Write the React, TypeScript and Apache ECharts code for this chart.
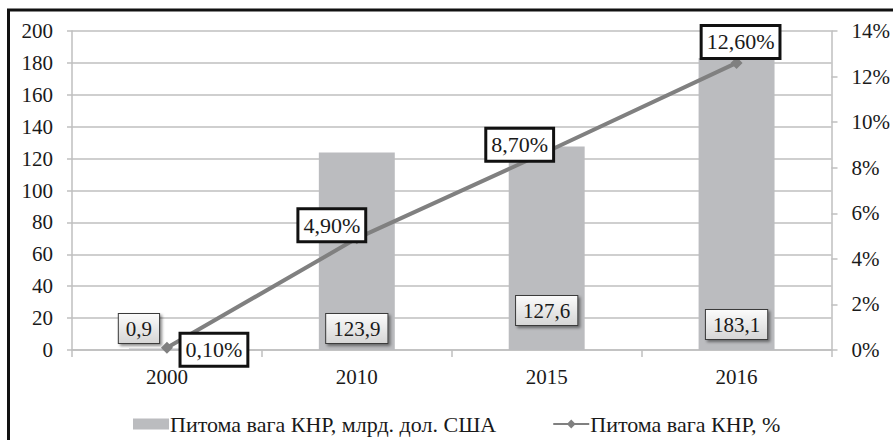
import React, { useEffect, useRef } from "react";
import * as echarts from "echarts";

const categories = ["2000", "2010", "2015", "2016"];
const barValues = [0.9, 123.9, 127.6, 183.1];
const lineValues = [0.1, 4.9, 8.7, 12.6];
const barLabelOffsets = [[-28, 0], [0, 0], [0, -18], [0, -4]];
const lineLabelOffsets = [[47, 2], [-25, -13], [-27, -7], [4, -21]];
const barName = "Питома вага КНР, млрд. дол. США";
const lineName = "Питома вага КНР, %";

const FONT = "Liberation Serif";
const FS = 21;
const TXT = "#1a1a1a";

export default function App() {
  const ref = useRef<HTMLDivElement>(null);
  useEffect(() => {
    if (!ref.current) return;
    const chart = echarts.init(ref.current, undefined, { renderer: "svg" });
    const option: any = {
      animation: false,
      backgroundColor: "#ffffff",
      grid: { left: 72, right: 61, top: 31, bottom: 90, containLabel: false },
      graphic: [
        {
          type: "rect",
          shape: { x: 8.5, y: 10, width: 1000, height: 1000 },
          style: { fill: "none", stroke: "#111", lineWidth: 3 },
          silent: true,
          z: 100,
        },
      ],
      legend: {
        left: 128,
        top: 408,
        itemWidth: 36,
        itemHeight: 11,
        itemGap: 56,
        textStyle: { fontFamily: FONT, fontSize: 22, color: TXT, padding: [0, 0, 0, -4] },
        data: [
          { name: barName, icon: "rect" },
          { name: lineName },
        ],
      },
      xAxis: {
        type: "category",
        data: categories,
        boundaryGap: true,
        axisLine: { lineStyle: { color: "#bfbfbf", width: 1.5 } },
        axisTick: { show: true, length: 7, lineStyle: { color: "#bfbfbf", width: 1.5 } },
        axisLabel: { fontFamily: FONT, fontSize: FS, color: TXT, margin: 16 },
      },
      yAxis: [
        {
          type: "value",
          min: 0,
          max: 200,
          interval: 20,
          axisLine: { show: true, lineStyle: { color: "#bfbfbf", width: 1.5 } },
          axisTick: { show: true, length: 5, lineStyle: { color: "#bfbfbf", width: 1.5 } },
          splitLine: { show: true, lineStyle: { color: "#bfbfbf", width: 1.5 } },
          axisLabel: { fontFamily: FONT, fontSize: FS, color: TXT, margin: 19 },
        },
        {
          type: "value",
          min: 0,
          max: 14,
          interval: 2,
          position: "right",
          axisLine: { show: true, lineStyle: { color: "#bfbfbf", width: 1.5 } },
          axisTick: { show: true, length: 6, lineStyle: { color: "#bfbfbf", width: 1.5 } },
          splitLine: { show: false },
          axisLabel: {
            fontFamily: FONT,
            fontSize: FS,
            color: TXT,
            margin: 20,
            formatter: "{value}%",
          },
        },
      ],
      series: [
        {
          name: barName,
          type: "bar",
          yAxisIndex: 0,
          barWidth: "40%",
          itemStyle: { color: "#bbbcbf" },
          data: barValues.map((v, i) => ({
            value: v,
            label: { offset: barLabelOffsets[i] },
          })),
          label: {
            show: true,
            position: "insideBottom",
            distance: 7,
            fontFamily: FONT,
            fontSize: FS,
            lineHeight: 22,
            color: TXT,
            padding: [4, 7, 3, 7],
            borderColor: "#3a3a3a",
            borderWidth: 1,
            backgroundColor: {
              type: "linear",
              x: 0,
              y: 0,
              x2: 0,
              y2: 1,
              colorStops: [
                { offset: 0, color: "#fbfbfb" },
                { offset: 1, color: "#d6d6d6" },
              ],
            },
            shadowColor: "rgba(0,0,0,0.45)",
            shadowBlur: 3,
            shadowOffsetX: 2,
            shadowOffsetY: 2,
            formatter: (p: any) => String(p.value).replace(".", ","),
          },
          z: 2,
        },
        {
          name: lineName,
          type: "line",
          yAxisIndex: 1,
          symbol: "diamond",
          symbolSize: 12,
          lineStyle: { color: "#808080", width: 4 },
          itemStyle: { color: "#808080" },
          data: lineValues.map((v, i) => ({
            value: v,
            label: { offset: lineLabelOffsets[i] },
          })),
          label: {
            show: true,
            position: "inside",
            fontFamily: FONT,
            fontSize: 22,
            lineHeight: 23,
            color: TXT,
            padding: [4, 4, 3, 4],
            borderColor: "#111",
            borderWidth: 3,
            backgroundColor: "#ffffff",
            formatter: (p: any) => p.value.toFixed(2).replace(".", ",") + "%",
          },
          z: 5,
        },
      ],
    };
    chart.setOption(option);
    return () => chart.dispose();
  }, []);
  return (
    <div
      ref={ref}
      style={{ position: "fixed", left: 0, top: 0, width: 893, height: 440 }}
    />
  );
}
